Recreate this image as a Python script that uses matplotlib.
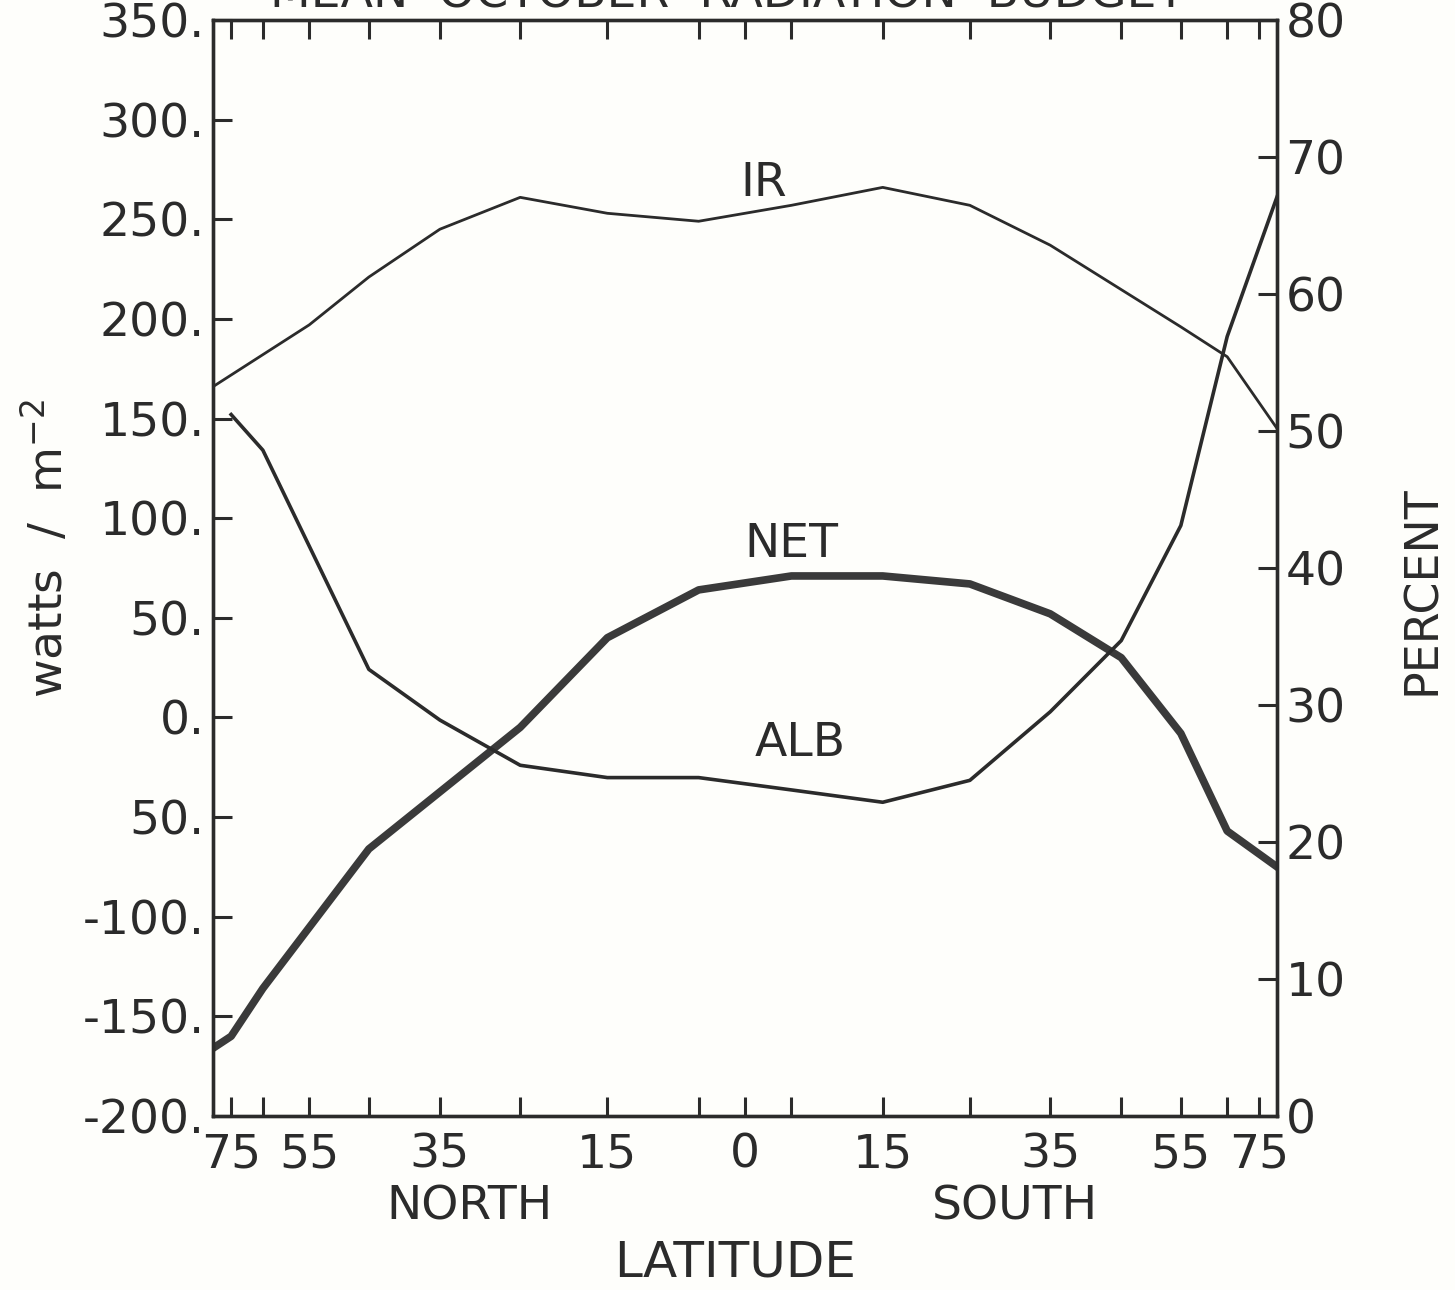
import numpy as np
import matplotlib.pyplot as plt

# latitude in degrees, north positive
ir_lat = [90, 55, 45, 35, 25, 15, 5, -5, -15, -25, -35, -55, -65, -90]
ir_wm2 = [166, 197, 221, 245, 261, 253, 249, 257, 266, 257, 237, 196, 181, 145]

net_lat = [90, 75, 65, 45, 25, 15, 5, -5, -15, -25, -35, -45, -55, -65, -90]
net_wm2 = [-166, -160, -136, -66, -5, 40, 64, 71, 71, 67, 52, 30, -8, -57, -75]

alb_lat = [75, 65, 45, 35, 25, 15, 5, -5, -15, -25, -35, -45, -55, -65, -90]
alb_pct = [51.2, 48.6, 32.6, 28.9, 25.6, 24.7, 24.7, 23.8, 22.9, 24.5, 29.5, 34.7, 43.1, 56.9, 67.1]

lat_major = [75, 55, 35, 15, 0, -15, -35, -55, -75]
lat_minor = [65, 45, 25, 5, -5, -25, -45, -65]
lat_labels = ["75", "55", "35", "15", "0", "15", "35", "55", "75"]

w_ticks = [-200, -150, -100, -50, 0, 50, 100, 150, 200, 250, 300, 350]
w_labels = ["-200.", "-150.", "-100.", "50.", "0.", "50.", "100.", "150.",
            "200.", "250.", "300.", "350."]
pct_ticks = [0, 10, 20, 30, 40, 50, 60, 70, 80]

ink = "#2b2b2b"
plt.rcParams["font.family"] = ["DejaVu Sans"]
plt.rcParams["text.color"] = ink


def fwd(x):
    return np.sin(np.radians(x))


def inv(y):
    return np.degrees(np.arcsin(np.clip(y, -1, 1)))


fig = plt.figure(figsize=(14.55, 12.9), dpi=100, facecolor="#fefefb")
ax = fig.add_axes([0.1464, 0.1349, 0.7313, 0.8496])
ax.set_facecolor("#fefefb")
ax.set_xscale("function", functions=(fwd, inv))
ax.set_xlim(90, -90)
ax.set_ylim(-200, 350)

ax.plot(ir_lat, ir_wm2, color=ink, lw=2.0)
ax.plot(net_lat, net_wm2, color="#3a3a3a", lw=5.5, solid_joinstyle="round")

ax2 = ax.twinx()
ax2.set_ylim(0, 80)
ax2.plot(alb_lat, alb_pct, color=ink, lw=2.6)

for a in (ax, ax2):
    for s in a.spines.values():
        s.set_linewidth(2.4)
        s.set_color(ink)

ax.set_xticks(lat_major)
ax.set_xticklabels(lat_labels)
ax.set_xticks(lat_minor, minor=True)
ax.tick_params(axis="x", which="both", direction="in", length=14, width=2.2,
               top=True, color=ink, labelsize=34, pad=12, labelcolor=ink)
ax.set_yticks(w_ticks)
ax.set_yticklabels(w_labels)
ax.tick_params(axis="y", direction="in", length=14, width=2.2, color=ink,
               labelsize=34, pad=6, labelcolor=ink)
ax2.set_yticks(pct_ticks)
ax2.tick_params(axis="y", direction="in", length=14, width=2.2, color=ink,
                labelsize=34, pad=6, labelcolor=ink)

ax.set_ylabel("watts  /  m$^{-2}$", fontsize=34, color=ink)
ax.yaxis.set_label_coords(-0.1325, 0.518)
ax2.set_ylabel("PERCENT", fontsize=33, color=ink, rotation=90)
ax2.yaxis.set_label_coords(1.1156, 0.48)

ax.text(-2, 268, "IR", fontsize=34, ha="center", va="center")
ax.text(-5, 87, "NET", fontsize=34, ha="center", va="center")
ax.text(-6, -13, "ALB", fontsize=34, ha="center", va="center")

fig.text(0.323, 0.0643, "NORTH", fontsize=34, ha="center", va="center")
fig.text(0.6976, 0.0643, "SOUTH", fontsize=34, ha="center", va="center")
fig.text(0.505, 0.0217, "LATITUDE", fontsize=36, ha="center", va="center")
fig.text(0.5, 1.004, "MEAN  OCTOBER  RADIATION  BUDGET", fontsize=34,
         ha="center", va="center")

fig.savefig("out.png", dpi=100, facecolor=fig.get_facecolor())
